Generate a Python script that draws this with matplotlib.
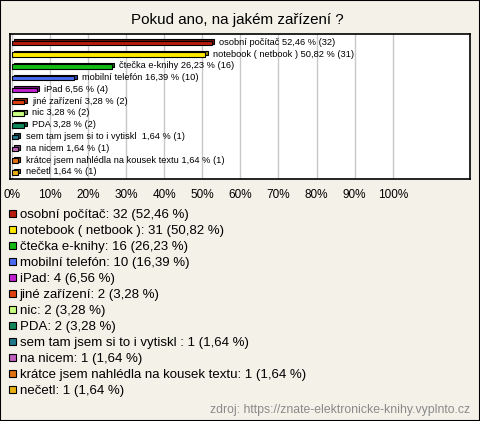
import numpy as np
import matplotlib.pyplot as plt
from matplotlib.patches import Rectangle
from matplotlib.colors import to_rgb

plt.rcParams['font.family'] = ['Liberation Sans', 'DejaVu Sans']

labels = ['osobní počítač', 'notebook ( netbook )', 'čtečka e-knihy', 'mobilní telefón',
          'iPad', 'jiné zařízení', 'nic', 'PDA', 'sem tam jsem si to i vytiskl ',
          'na nicem', 'krátce jsem nahlédla na kousek textu', 'nečetl']
counts = [32, 31, 16, 10, 4, 2, 2, 2, 1, 1, 1, 1]
percents = [52.46, 50.82, 26.23, 16.39, 6.56, 3.28, 3.28, 3.28, 1.64, 1.64, 1.64, 1.64]
colors = ['#b81c0c', '#ffe800', '#14bb14', '#4a6cf0', '#c020d0', '#e04010',
          '#c8ff80', '#10885a', '#20788a', '#c060c0', '#e07010', '#e8b010']
xticks = [0, 10, 20, 30, 40, 50, 60, 70, 80, 90, 100]

bg = '#f3f1e8'
fig = plt.figure(figsize=(4.8, 4.21), dpi=100, facecolor=bg)
W, H = 480, 421

def fx(px):
    return px / W

def fy(py):
    return 1 - py / H

fig.text(0.495, fy(20), 'Pokud ano, na jakém zařízení ?', ha='center', va='center', fontsize=10.9)

ax = fig.add_axes([fx(10), fy(179), fx(460), 145 / H])
ax.set_facecolor('white')
y = np.arange(len(labels))

def fmt(v):
    return ('%.2f' % v).replace('.', ',')

dark = [tuple(c * 0.6 for c in to_rgb(col)) for col in colors]
# back face for a slight 3d look
ax.barh(y - 0.12, percents, left=0.6, height=0.38, color=dark, edgecolor='black', linewidth=0.8, zorder=2)
ax.barh(y, percents, height=0.38, color=colors, edgecolor='black', linewidth=0.8, zorder=3)
for i in range(len(labels)):
    ax.text(percents[i] + 2.0, y[i] - 0.05, '%s %s %% (%d)' % (labels[i], fmt(percents[i]), counts[i]),
            va='center', ha='left', fontsize=6.7, zorder=4)

ax.set_xlim(-0.5, 120.3)
ax.set_ylim(len(labels) - 0.45, -0.75)
ax.set_yticks([])
ax.set_xticks(xticks)
ax.set_xticklabels(['%d%%' % t for t in xticks], fontsize=8.5)
ax.tick_params(axis='x', length=0, pad=7)
ax.grid(axis='x', color='#c8c8c8', linewidth=1, zorder=0)
ax.set_axisbelow(True)
for s in ax.spines.values():
    s.set_linewidth(1.2)
    s.set_color('black')

# legend list
for i in range(len(labels)):
    base = 218 + 16 * i
    fig.patches.append(Rectangle((fx(9), fy(base - 1)), fx(7), 7 / H, transform=fig.transFigure,
                                 facecolor=colors[i], edgecolor='black', linewidth=0.8))
    fig.text(fx(19.5), fy(base), '%s: %d (%s %%)' % (labels[i] if i == 8 else labels[i].rstrip(), counts[i], fmt(percents[i])),
             ha='left', va='baseline', fontsize=9.5)

fig.text(fx(470), fy(410), 'zdroj: https://znate-elektronicke-knihy.vyplnto.cz', ha='right', va='center',
         fontsize=8.8, color='#8a8a8a')

fig.patches.append(Rectangle((0, 0), 1, 1, transform=fig.transFigure, fill=False,
                             edgecolor='black', linewidth=1.5))

fig.savefig('out.png', dpi=100, facecolor=bg)
